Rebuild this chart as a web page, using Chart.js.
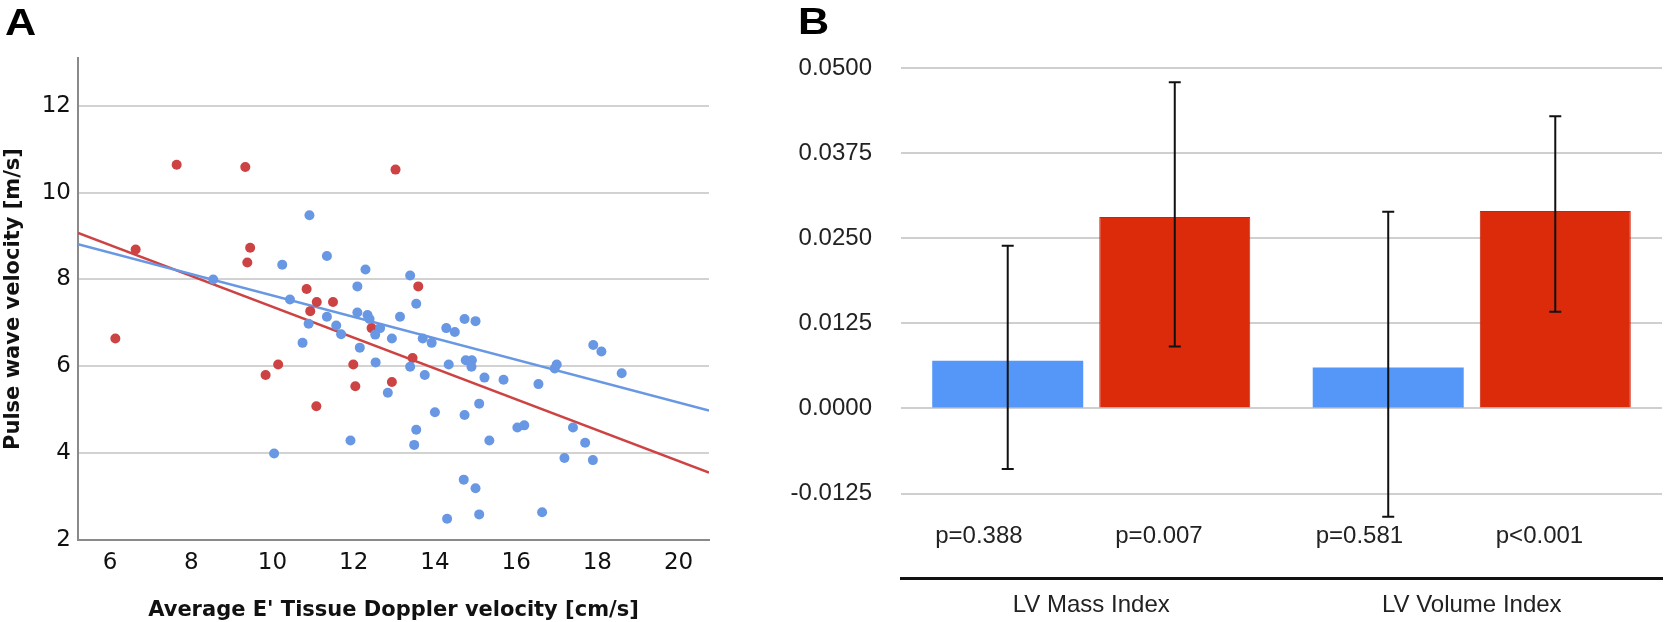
<!DOCTYPE html>
<html>
<head>
<meta charset="utf-8">
<script src="https://cdn.jsdelivr.net/npm/chart.js@4.4.1/dist/chart.umd.min.js"></script>
<style>
  body { margin: 0; background: #fff; width: 1664px; height: 622px; overflow: hidden; position: relative; }
  canvas { position: absolute; top: 0; }
  #chart-a { left: 0; }
  #chart-b { left: 700px; }
  .panel { position: absolute; font: bold 36px "Liberation Sans", Arial, sans-serif; line-height: 36px; color: #000;
           transform: scaleX(1.2); transform-origin: left top; z-index: 2; }
</style>
</head>
<body>
<div class="panel" style="left:5px;top:5px">A</div>
<div class="panel" style="left:798px;top:4px">B</div>
<canvas id="chart-a" width="714" height="622"></canvas>
<canvas id="chart-b" width="964" height="622"></canvas>
<script>
// ---- panel A data: E' velocity (cm/s) vs pulse wave velocity (m/s)
const blueE = [10.91, 11.34, 10.24, 12.29, 13.39, 8.54, 12.09, 10.43, 13.54, 12.09,
  12.34, 12.39, 11.34, 13.14, 14.73, 15.0, 10.89, 11.57, 11.69, 12.65,
  12.53, 14.28, 14.49, 12.94, 10.74, 13.70, 13.92, 12.15, 12.54, 13.39,
  14.34, 14.76, 14.91, 14.90, 13.75, 15.22, 15.69, 16.55, 16.95, 17.0,
  17.90, 18.10, 18.60, 12.84, 15.09, 14.0, 14.73, 13.54, 16.03, 16.20,
  17.40, 11.92, 15.34, 17.70, 13.49, 10.04, 17.19, 17.89, 14.71, 15.0,
  14.30, 15.09, 16.64];
const bluePWV = [9.48, 8.54, 8.34, 8.23, 8.09, 8.00, 7.84, 7.54, 7.44, 7.24,
  7.18, 7.09, 7.14, 7.14, 7.09, 7.04, 6.98, 6.94, 6.74, 6.88,
  6.73, 6.88, 6.79, 6.64, 6.54, 6.64, 6.54, 6.43, 6.09, 5.99,
  6.04, 6.14, 6.14, 5.99, 5.80, 5.74, 5.69, 5.59, 5.95, 6.04,
  6.49, 6.34, 5.84, 5.39, 5.14, 4.94, 4.88, 4.54, 4.59, 4.64,
  4.59, 4.29, 4.29, 4.24, 4.19, 3.99, 3.89, 3.84, 3.39, 3.19,
  2.49, 2.59, 2.64];
const redE = [7.64, 9.33, 13.03, 6.63, 9.45, 9.38, 6.13, 10.84, 11.09, 11.49,
  10.93, 13.59, 12.44, 13.45, 9.83, 10.14, 11.99, 12.04, 12.94, 11.08];
const redPWV = [10.64, 10.59, 10.53, 8.69, 8.73, 8.39, 6.64, 7.78, 7.48, 7.48,
  7.27, 7.84, 6.88, 6.19, 5.80, 6.04, 6.04, 5.54, 5.64, 5.08];
// fitted lines, end points
const fitE = [5.21, 20.75];
const blueFitPWV = [8.81, 4.98];
const redFitPWV = [9.07, 3.55];
const xTicksA = [6, 8, 10, 12, 14, 16, 18, 20];
const yTicksA = [2, 4, 6, 8, 10, 12];

// ---- panel B data
const categories = ["LV Mass Index", "LV Volume Index"];
const blueVals = [0.0070, 0.0060];
const blueLow = [-0.0089, -0.0159];
const blueHigh = [0.0239, 0.0289];
const redVals = [0.0281, 0.0290];
const redLow = [0.0091, 0.0142];
const redHigh = [0.0479, 0.0429];
const blueP = ["p=0.388", "p=0.581"];
const redP = ["p=0.007", "p<0.001"];
const yTicksB = [-0.0125, 0, 0.0125, 0.025, 0.0375, 0.05];

const BLUE_PT = "#6897e4", RED_PT = "#cd4242";
const pts = (xs, ys) => xs.map((x, i) => ({ x: x, y: ys[i] }));
const tickFont = { family: "DejaVu Sans", size: 23 };
const titleFont = { family: "DejaVu Sans", size: 21, weight: "bold", lineHeight: 1 };

new Chart(document.getElementById("chart-a"), {
    type: "scatter",
    data: {
        datasets: [
            { data: pts(blueE, bluePWV), backgroundColor: BLUE_PT, pointRadius: 5, borderWidth: 0, order: 0 },
            { data: pts(redE, redPWV), backgroundColor: RED_PT, pointRadius: 5, borderWidth: 0, order: 0 },
            { type: "line", data: pts(fitE, blueFitPWV), borderColor: BLUE_PT, borderWidth: 2.5, pointRadius: 0, order: 1 },
            { type: "line", data: pts(fitE, redFitPWV), borderColor: RED_PT, borderWidth: 2.5, pointRadius: 0, order: 1 },
        ],
    },
    options: {
        responsive: false,
        animation: false,
        layout: { padding: { top: 58, left: 0, right: 0, bottom: 0 } },
        plugins: { legend: { display: false }, tooltip: { enabled: false } },
        scales: {
            x: {
                type: "linear",
                min: fitE[0],
                max: fitE[1],
                afterBuildTicks: (s) => { s.ticks = xTicksA.map((v) => ({ value: v })); },
                afterFit: (s) => { s.height = 82; },
                grid: { display: false, drawTicks: false },
                border: { display: true, color: "#8a8a8a", width: 2 },
                ticks: { font: tickFont, color: "#111", padding: 9, maxRotation: 0 },
                title: {
                    display: true,
                    text: "Average E' Tissue Doppler velocity [cm/s]",
                    font: titleFont,
                    color: "#111",
                    padding: { top: 0, bottom: 1 },
                },
            },
            y: {
                min: 2,
                max: 13.1,
                afterBuildTicks: (s) => { s.ticks = yTicksA.map((v) => ({ value: v })); },
                afterFit: (s) => { s.width = 78; },
                grid: { color: "#d2d2d2", lineWidth: 2, drawTicks: false },
                border: { display: true, color: "#8a8a8a", width: 2 },
                ticks: { font: tickFont, color: "#111", padding: 7 },
                title: {
                    display: true,
                    text: "Pulse wave velocity [m/s]",
                    font: titleFont,
                    color: "#111",
                    padding: { top: 3, bottom: 0 },
                },
            },
        },
    },
});

// error bars + p-values drawn on top of the bars
const errorBars = {
    id: "errorBars",
    afterDatasetsDraw(chart) {
        const ctx = chart.ctx;
        const y = chart.scales.y;
        ctx.save();
        chart.data.datasets.forEach((ds, i) => {
            chart.getDatasetMeta(i).data.forEach((bar, j) => {
                const top = y.getPixelForValue(ds.errHigh[j]);
                const bot = y.getPixelForValue(ds.errLow[j]);
                ctx.strokeStyle = "#111";
                ctx.lineWidth = 2;
                ctx.beginPath();
                ctx.moveTo(bar.x, top); ctx.lineTo(bar.x, bot);
                ctx.moveTo(bar.x - 6, top); ctx.lineTo(bar.x + 6, top);
                ctx.moveTo(bar.x - 6, bot); ctx.lineTo(bar.x + 6, bot);
                ctx.stroke();

                ctx.fillStyle = "#222";
                ctx.font = "24px 'Liberation Sans', Arial, sans-serif";
                ctx.textAlign = "left";
                ctx.textBaseline = "middle";
                ctx.fillText(ds.pLabels[j], bar.x - bar.width / 2 + ds.pShift, chart.chartArea.bottom - 42);
            });
        });
        ctx.restore();
    },
};

const fontB = { family: "Liberation Sans", size: 24 };

new Chart(document.getElementById("chart-b"), {
    type: "bar",
    data: {
        labels: categories,
        datasets: [
            { data: blueVals, backgroundColor: "#5597f8", errLow: blueLow, errHigh: blueHigh, pLabels: blueP, pShift: 3 },
            { data: redVals, backgroundColor: "#dc2b0b", borderColor: "#c9230a", borderWidth: 1, errLow: redLow, errHigh: redHigh, pLabels: redP, pShift: 16 },
        ],
    },
    options: {
        responsive: false,
        animation: false,
        categoryPercentage: 0.878,
        barPercentage: 0.904,
        layout: { padding: { top: 68, left: 0, right: 2, bottom: 0 } },
        plugins: { legend: { display: false }, tooltip: { enabled: false } },
        scales: {
            x: {
                afterFit: (s) => { s.height = 39; },
                grid: { display: false, drawTicks: false },
                border: { display: true, color: "#111", width: 3 },
                ticks: { font: fontB, color: "#222", padding: 12 },
            },
            y: {
                min: -0.025,
                max: 0.05,
                afterBuildTicks: (s) => { s.ticks = yTicksB.map((v) => ({ value: v })); },
                afterFit: (s) => { s.width = 201; },
                grid: { color: "#cfcfcf", lineWidth: 2, drawTicks: false },
                border: { display: false },
                ticks: { font: fontB, color: "#222", padding: 29, callback: (v) => v.toFixed(4) },
            },
        },
    },
    plugins: [errorBars],
});
</script>
</body>
</html>
